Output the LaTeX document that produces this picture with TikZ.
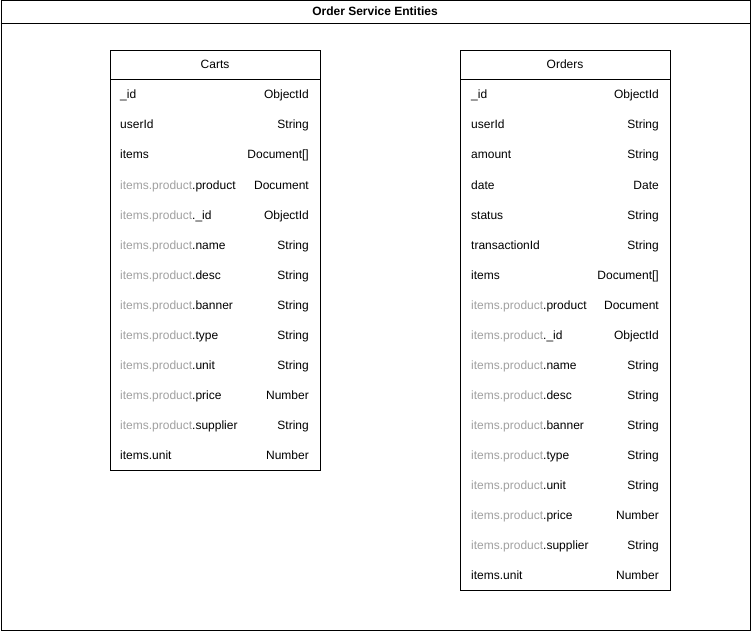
\documentclass[tikz,border=0pt]{standalone}
\usepackage{fontspec}
\setmainfont{Liberation Sans}
\definecolor{gr}{HTML}{A0A0A0}
\newcommand\gp[1]{\textcolor{gr}{items.product}.#1}
\tikzset{
  box/.style={draw, line width=1pt, anchor=north west, inner sep=0pt, minimum width=210pt},
  lcell/.style={anchor=west, inner sep=0pt, text height=9pt, text depth=3pt},
  rcell/.style={anchor=east, inner sep=0pt, text height=9pt, text depth=3pt},
  hcell/.style={inner sep=0pt, text height=9pt, text depth=3pt},
}
\begin{document}
\begin{tikzpicture}[x=1pt,y=-1pt,font=\fontsize{12}{14}\selectfont]
\useasboundingbox (0,0) rectangle (751,631);
\node (frame) [draw, line width=1pt, anchor=north west, inner sep=0pt, minimum width=749pt, minimum height=629pt] at (0.5,0.5) {};
\node (title) [hcell, font=\fontsize{12}{14}\selectfont\bfseries] at (375,13) {Order Service Entities};
\draw[line width=1pt] ([yshift=-23pt]frame.north west) -- ([yshift=-23pt]frame.north east);
% Carts
\node (carts) [box, minimum height=420pt] at (110,50) {};
\node (cartsh) [hcell] at (215,66) {Carts};
\draw[line width=1pt] ([yshift=-30pt]carts.north west) -- ([yshift=-30pt]carts.north east);
\foreach \l/\r [count=\i] in {\_id/ObjectId, userId/String, items/Document[], \gp{product}/Document, \gp{\_id}/ObjectId, \gp{name}/String, \gp{desc}/String, \gp{banner}/String, \gp{type}/String, \gp{unit}/String, \gp{price}/Number, \gp{supplier}/String, items.unit/Number}{
  \node (cl\i) [lcell] at (120,{66+30*\i}) {\l};
  \node (cr\i) [rcell] at (309,{66+30*\i}) {\r};
}
% Orders
\node (orders) [box, minimum height=540pt] at (460,50) {};
\node (ordersh) [hcell] at (565,66) {Orders};
\draw[line width=1pt] ([yshift=-30pt]orders.north west) -- ([yshift=-30pt]orders.north east);
\foreach \l/\r [count=\i] in {\_id/ObjectId, userId/String, amount/String, date/Date, status/String, transactionId/String, items/Document[], \gp{product}/Document, \gp{\_id}/ObjectId, \gp{name}/String, \gp{desc}/String, \gp{banner}/String, \gp{type}/String, \gp{unit}/String, \gp{price}/Number, \gp{supplier}/String, items.unit/Number}{
  \node (ol\i) [lcell] at (471,{66+30*\i}) {\l};
  \node (or\i) [rcell] at (659,{66+30*\i}) {\r};
}
\end{tikzpicture}
\end{document}
